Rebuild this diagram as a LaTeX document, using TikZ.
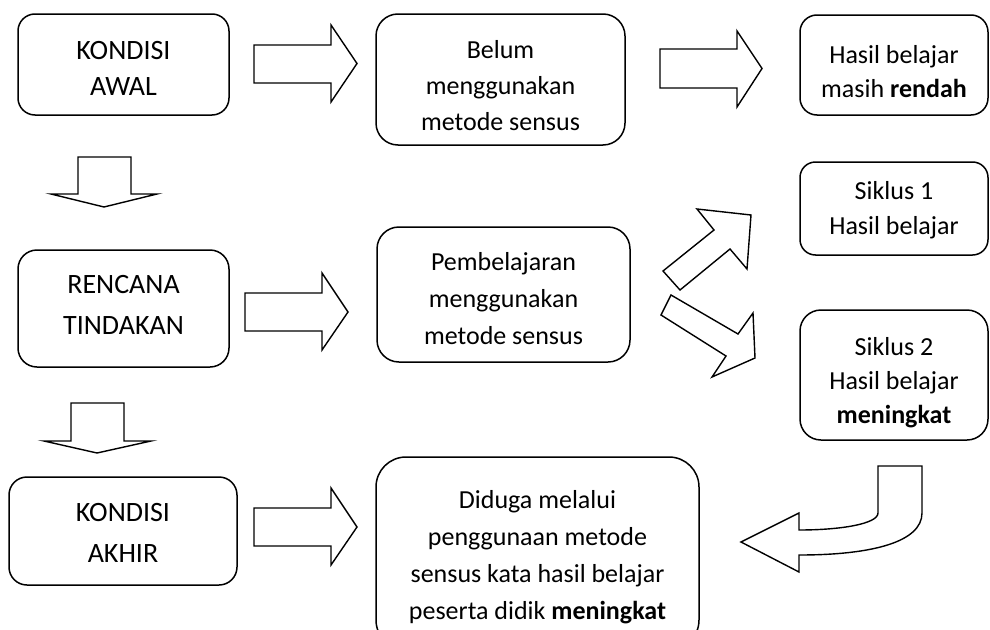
\documentclass[tikz,border=0pt]{standalone}
\usepackage{fontspec}
\setmainfont{Carlito}
\begin{document}
\begin{tikzpicture}[x=1pt,y=-1pt,line width=1.5pt,
  box/.style={draw, rounded corners=#1, inner sep=0pt, outer sep=0pt},
  txt/.style={inner sep=0pt, align=center},
  fs/.style={font=\fontsize{26}{#1}\selectfont},
  fb/.style={font=\fontsize{28}{#1}\selectfont},
  blk/.style={draw, line width=1.4pt, line join=miter, fill=white}]
\useasboundingbox (0,0) rectangle (990,629);
\clip (0,0) rectangle (990,629);

% boxes
\node[box=17pt, minimum width=211pt, minimum height=101pt] (A) at (123.5,64.5) {};
\node[txt, fb=36] (At) at (123.5,68) {KONDISI\\AWAL};
\node[box=22pt, minimum width=249pt, minimum height=131pt] (B) at (500.5,79.5) {};
\node[txt, fs=36] (Bt) at (500.5,86) {Belum\\menggunakan\\metode sensus};
\node[box=17pt, minimum width=188pt, minimum height=100pt] (C) at (894,65) {};
\node[txt, fs=34] (Ct) at (894,72) {Hasil belajar\\masih \textbf{rendah}};
\node[box=19pt, minimum width=211pt, minimum height=117pt] (D) at (123.5,308.5) {};
\node[txt, fb=41] (Dt) at (123.5,304.5) {RENCANA\\TINDAKAN};
\node[box=22pt, minimum width=253pt, minimum height=135pt] (E) at (503.5,294.5) {};
\node[txt, fs=37] (Et) at (503.5,298.5) {Pembelajaran\\menggunakan\\metode sensus};
\node[box=15.5pt, minimum width=188pt, minimum height=93pt] (F) at (894,208.5) {};
\node[txt, fs=35] (Ft) at (894,210.5) {Siklus 1\\Hasil belajar};
\node[box=21pt, minimum width=188pt, minimum height=130pt] (G) at (894,375) {};
\node[txt, fs=34] (Gt) at (894,383) {Siklus 2\\Hasil belajar\\\textbf{meningkat}};
\node[box=18pt, minimum width=228pt, minimum height=108pt] (H) at (123,531) {};
\node[txt, fb=41] (Ht) at (123,532.5) {KONDISI\\AKHIR};
\node[box=30pt, minimum width=323pt, minimum height=193pt] (I) at (537.5,553.5) {};
\node[txt, fs=37] (It) at (537.5,557.5) {Diduga melalui\\penggunaan metode\\sensus kata hasil belajar\\peserta didik \textbf{meningkat}};

% block arrows
\draw[blk] (254,45) -- (331,45) -- (331,25) -- (357,63.5) -- (331,102) -- (331,83) -- (254,83) -- cycle;
\draw[blk] (660,49) -- (737,49) -- (737,31) -- (762,68.5) -- (737,107) -- (737,88) -- (660,88) -- cycle;
\draw[blk] (245,293) -- (322,293) -- (322,273) -- (348,312) -- (322,350) -- (322,331) -- (245,331) -- cycle;
\draw[blk] (254,508) -- (331,508) -- (331,488) -- (357,527) -- (331,565) -- (331,546) -- (254,546) -- cycle;
\draw[blk] (78,157) -- (131,157) -- (131,194) -- (157,194) -- (104,207) -- (51,194) -- (78,194) -- cycle;
\draw[blk] (71,403) -- (124,403) -- (124,441) -- (151,441) -- (97,453) -- (44,441) -- (71,441) -- cycle;
\draw[blk] (663,271) -- (714,230) -- (697,209) -- (751,215) -- (747,269) -- (730,249) -- (680,290) -- cycle;
\draw[blk] (671,295) -- (738,334) -- (753,313) -- (755,358) -- (712,377) -- (726,356) -- (661,315) -- cycle;
\draw[blk] (878,466) -- (922,466) -- (922,513) .. controls (922,542) and (872,555) .. (799,555) -- (799,572) -- (741,542) -- (799,513) -- (799,530) .. controls (840,530) and (878,524) .. (878,513) -- cycle;
\end{tikzpicture}
\end{document}
